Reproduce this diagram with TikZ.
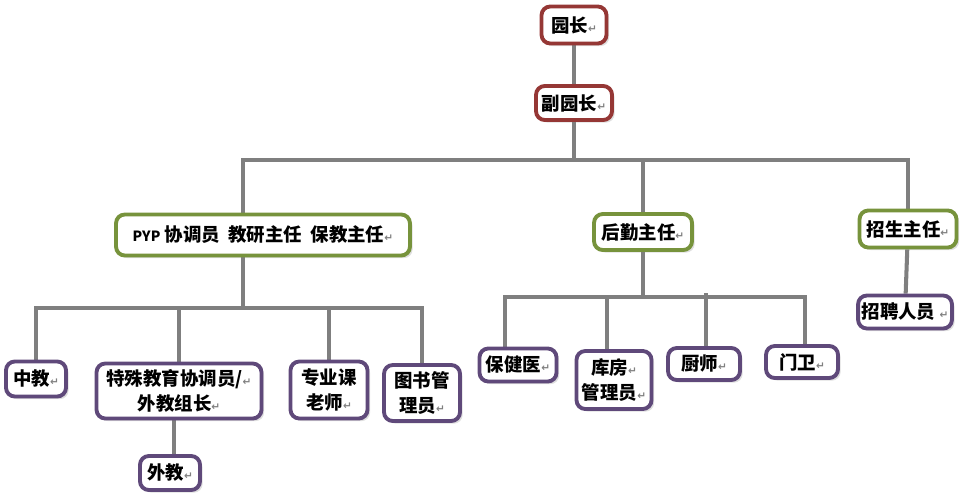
\documentclass[tikz,border=0pt]{standalone}
\usepackage{fontspec}
\usepackage{xcolor}
\usetikzlibrary{calc, shadows, backgrounds}
\setmainfont{Noto Sans CJK SC}
\newfontfamily\markfont{DejaVu Sans}
\definecolor{topc}{HTML}{953735}
\definecolor{midc}{HTML}{77933C}
\definecolor{lowc}{HTML}{5F497A}
\definecolor{linkc}{HTML}{7F7F7F}
\newcommand{\ret}{{\markfont\color{gray}\fontsize{6}{6}\selectfont ↵}}

\begin{document}
\begin{tikzpicture}[x=0.02cm, y=-0.02cm,
        box/.style={rectangle, rounded corners=5pt, line width=2.2pt, fill=white,
                    align=center, inner sep=2pt, font=\fontsize{10.5}{14.5}\selectfont\bfseries,
                    drop shadow={opacity=0.25, shadow xshift=1.5pt, shadow yshift=-1.5pt}},
        top/.style={box, draw=topc},
        mid/.style={box, draw=midc},
        low/.style={box, draw=lowc},
        link/.style={draw=linkc, line width=2.3pt}
      ]
        \useasboundingbox (0,0) rectangle (963,497);
        \node[top, minimum width=1.30cm, minimum height=0.74cm] (yz) at (574,25) {园长\ret};
        \node[top, minimum width=1.52cm, minimum height=0.68cm] (fyz) at (574,103) {副园长\ret};
        \node[mid, minimum width=5.88cm, minimum height=0.82cm] (pyp) at (263,235)
             {{\fontsize{8}{10}\selectfont PYP} 协调员\ \ 教研主任\ \ 保教主任\ret};
        \node[mid, minimum width=1.96cm, minimum height=0.72cm] (hq) at (643,232) {后勤主任\ret};
        \node[mid, minimum width=1.94cm, minimum height=0.74cm] (zs) at (908,229) {招生主任\ret};
        \node[low, minimum width=1.84cm, minimum height=0.66cm] (zp) at (905,312) {招聘人员\ \ret};
        \node[low, minimum width=1.20cm, minimum height=0.70cm] (zj) at (36,379) {中教\ret};
        \node[low, minimum width=3.30cm, minimum height=1.10cm] (tj) at (179,391) {特殊教育协调员/\ret\\外教组长\ret};
        \node[low, minimum width=1.54cm, minimum height=1.14cm] (zy) at (329,390) {专业课\\老师\ret};
        \node[low, minimum width=1.52cm, minimum height=1.12cm] (tsg) at (422,393) {图书管\\理员\ret};
        \node[low, minimum width=1.20cm, minimum height=0.68cm] (wj) at (170,473) {外教\ret};
        \node[low, minimum width=1.54cm, minimum height=0.66cm] (bjy) at (518,365) {保健医\ret};
        \node[low, minimum width=1.50cm, minimum height=1.16cm] (kf) at (614,380) {库房\ret\\管理员\ret};
        \node[low, minimum width=1.44cm, minimum height=0.64cm] (cs) at (704,364) {厨师\ret};
        \node[low, minimum width=1.44cm, minimum height=0.64cm] (mw) at (802,362) {门卫\ret};
        \coordinate (bus1) at (574,160);
        \coordinate (bus2) at (243,308);
        \coordinate (bus3) at (643,297);
        \begin{scope}[on background layer]
        \draw[link] (yz) -- (fyz);
        \draw[link] (fyz) -- (bus1);
        \draw[link] ($(pyp.north)+(-20,0)$) |- (bus1) -| (zs.north);
        \draw[link] (bus1 -| hq.north) -- (hq.north);
        \draw[link] (zs) -- (zp);
        \draw[link] ($(pyp.south)+(-20,0)$) -- (bus2);
        \draw[link] (zj.north) |- (bus2) -| (tsg.north);
        \draw[link] (bus2 -| tj.north) -- (tj.north);
        \draw[link] (bus2 -| zy.north) -- (zy.north);
        \draw[link] ($(tj.south)+(-5,0)$) -- (wj.north -| {$(tj.south)+(-5,0)$});
        \draw[link] (hq) -- (bus3);
        \draw[link] ($(bjy.north)+(-13,0)$) |- (bus3) -| ($(mw.north)+(3,0)$);
        \draw[link] ($(bus3 -| kf.north)+(-7,0)$) -- ($(kf.north)+(-7,0)$);
        \draw[link] ($(bus3 -| cs.north)+(2,-4)$) -- ($(cs.north)+(2,0)$);
        \end{scope}
      \end{tikzpicture}
\end{document}
